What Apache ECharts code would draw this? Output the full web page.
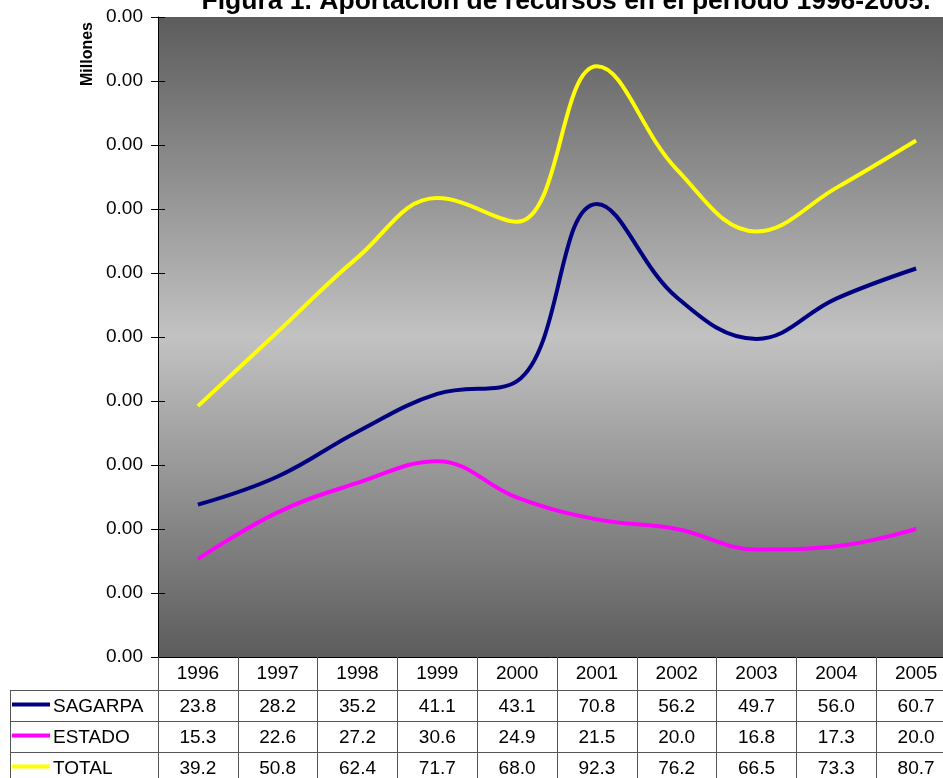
<!DOCTYPE html>
<html>
<head>
<meta charset="utf-8">
<script src="https://cdn.jsdelivr.net/npm/echarts@6/dist/echarts.min.js"></script>
<style>
  html, body { margin: 0; padding: 0; background: #ffffff; }
  #chart { width: 943px; height: 778px; }
</style>
</head>
<body>
<div id="chart"></div>
<script>
// Categories and series values
const years = ['1996', '1997', '1998', '1999', '2000', '2001', '2002', '2003', '2004', '2005'];
const sagarpa = [23.8, 28.2, 35.2, 41.1, 43.1, 70.8, 56.2, 49.7, 56.0, 60.7];
const estado = [15.3, 22.6, 27.2, 30.6, 24.9, 21.5, 20.0, 16.8, 17.3, 20.0];
const total = [39.2, 50.8, 62.4, 71.7, 68.0, 92.3, 76.2, 66.5, 73.3, 80.7];
const seriesNames = ['SAGARPA', 'ESTADO', 'TOTAL'];
const yTickLabel = '0.00';
const titleText = 'Figura 1. Aportación de recursos en el período 1996-2005.';
const yAxisTitle = 'Millones';

const seriesData = [sagarpa, estado, total];
const seriesColors = ['#000080', '#ff00ff', '#ffff00'];
const FONT = '"Liberation Sans", Arial, sans-serif';

const GRID = { left: 158, top: 17, width: 798, height: 640 };
const ROW_LINES = [690, 721, 752, 783];
const TABLE_LEFT = 10;

const chart = echarts.init(document.getElementById('chart'), null, { renderer: 'canvas' });

const option = {
  animation: false,
  backgroundColor: '#ffffff',
  textStyle: { fontFamily: FONT },
  grid: {
    left: GRID.left, top: GRID.top, width: GRID.width, height: GRID.height,
    outerBoundsMode: 'none',
    containLabel: false,
    show: true,
    borderWidth: 0,
    backgroundColor: new echarts.graphic.LinearGradient(0, 0, 0, 1, [
      { offset: 0, color: '#5c5c5c' },
      { offset: 0.5, color: '#c2c2c2' },
      { offset: 1, color: '#5c5c5c' }
    ])
  },
  xAxis: {
    type: 'category',
    data: years,
    boundaryGap: true,
    axisLine: { show: true, lineStyle: { color: '#000000', width: 1 } },
    axisTick: { show: true, interval: 0, length: 126, lineStyle: { color: '#555555', width: 1 } },
    axisLabel: { interval: 0, color: '#000000', fontSize: 19, fontFamily: FONT, margin: 7 },
    splitLine: { show: false }
  },
  yAxis: [
    {
      type: 'value',
      min: 0, max: 100, interval: 10,
      axisLine: { show: true, lineStyle: { color: '#000000', width: 1 } },
      axisTick: { show: true, length: 7, lineStyle: { color: '#000000', width: 1 } },
      axisLabel: { color: '#000000', fontSize: 19, fontFamily: FONT, margin: 15, formatter: () => yTickLabel },
      splitLine: { show: false }
    },
    {
      type: 'value',
      position: 'left',
      min: 0, max: 100, interval: 10,
      axisLine: { show: false },
      axisTick: { show: true, inside: true, length: 7, lineStyle: { color: '#000000', width: 1 } },
      axisLabel: { show: false },
      splitLine: { show: false }
    }
  ],
  series: seriesNames.map((name, i) => ({
    name: name,
    type: 'line',
    data: seriesData[i],
    smooth: 0.4,
    symbol: 'none',
    lineStyle: { color: seriesColors[i], width: 4 },
    z: 3 + i
  }))
};

chart.setOption(option);

// Title, axis caption and the data table under the plot
function buildGraphics() {
  const els = [];
  els.push({
    type: 'text', x: 566, y: 2,
    style: { text: titleText, fill: '#000000', font: 'bold 26.5px ' + FONT, textAlign: 'center', textVerticalAlign: 'middle' }
  });
  els.push({
    type: 'text', x: 88, y: 54, rotation: Math.PI / 2,
    style: { text: yAxisTitle, fill: '#000000', font: 'bold 16px ' + FONT, textAlign: 'center', textVerticalAlign: 'middle' }
  });
  const right = GRID.left + GRID.width;
  // horizontal row rules
  ROW_LINES.forEach(y => {
    els.push({ type: 'line', shape: { x1: TABLE_LEFT, y1: y + 0.5, x2: right, y2: y + 0.5 }, style: { stroke: '#555555', lineWidth: 1 } });
  });
  // left border of the label column
  els.push({ type: 'line', shape: { x1: TABLE_LEFT + 0.5, y1: ROW_LINES[0], x2: TABLE_LEFT + 0.5, y2: 800 }, style: { stroke: '#555555', lineWidth: 1 } });
  seriesNames.forEach((name, r) => {
    const cy = (ROW_LINES[r] + ROW_LINES[r + 1]) / 2;
    els.push({ type: 'line', shape: { x1: 12, y1: cy - 1, x2: 50, y2: cy - 1 }, style: { stroke: seriesColors[r], lineWidth: 4 } });
    els.push({
      type: 'text', x: 53, y: cy + 1,
      style: { text: name, fill: '#000000', font: '19px ' + FONT, textAlign: 'left', textVerticalAlign: 'middle' }
    });
    seriesData[r].forEach((v, c) => {
      const px = chart.convertToPixel({ xAxisIndex: 0 }, c);
      els.push({
        type: 'text', x: px, y: cy + 1,
        style: { text: v.toFixed(1), fill: '#000000', font: '19px ' + FONT, textAlign: 'center', textVerticalAlign: 'middle' }
      });
    });
  });
  chart.setOption({ graphic: { elements: els } });
}
buildGraphics();
</script>
</body>
</html>
